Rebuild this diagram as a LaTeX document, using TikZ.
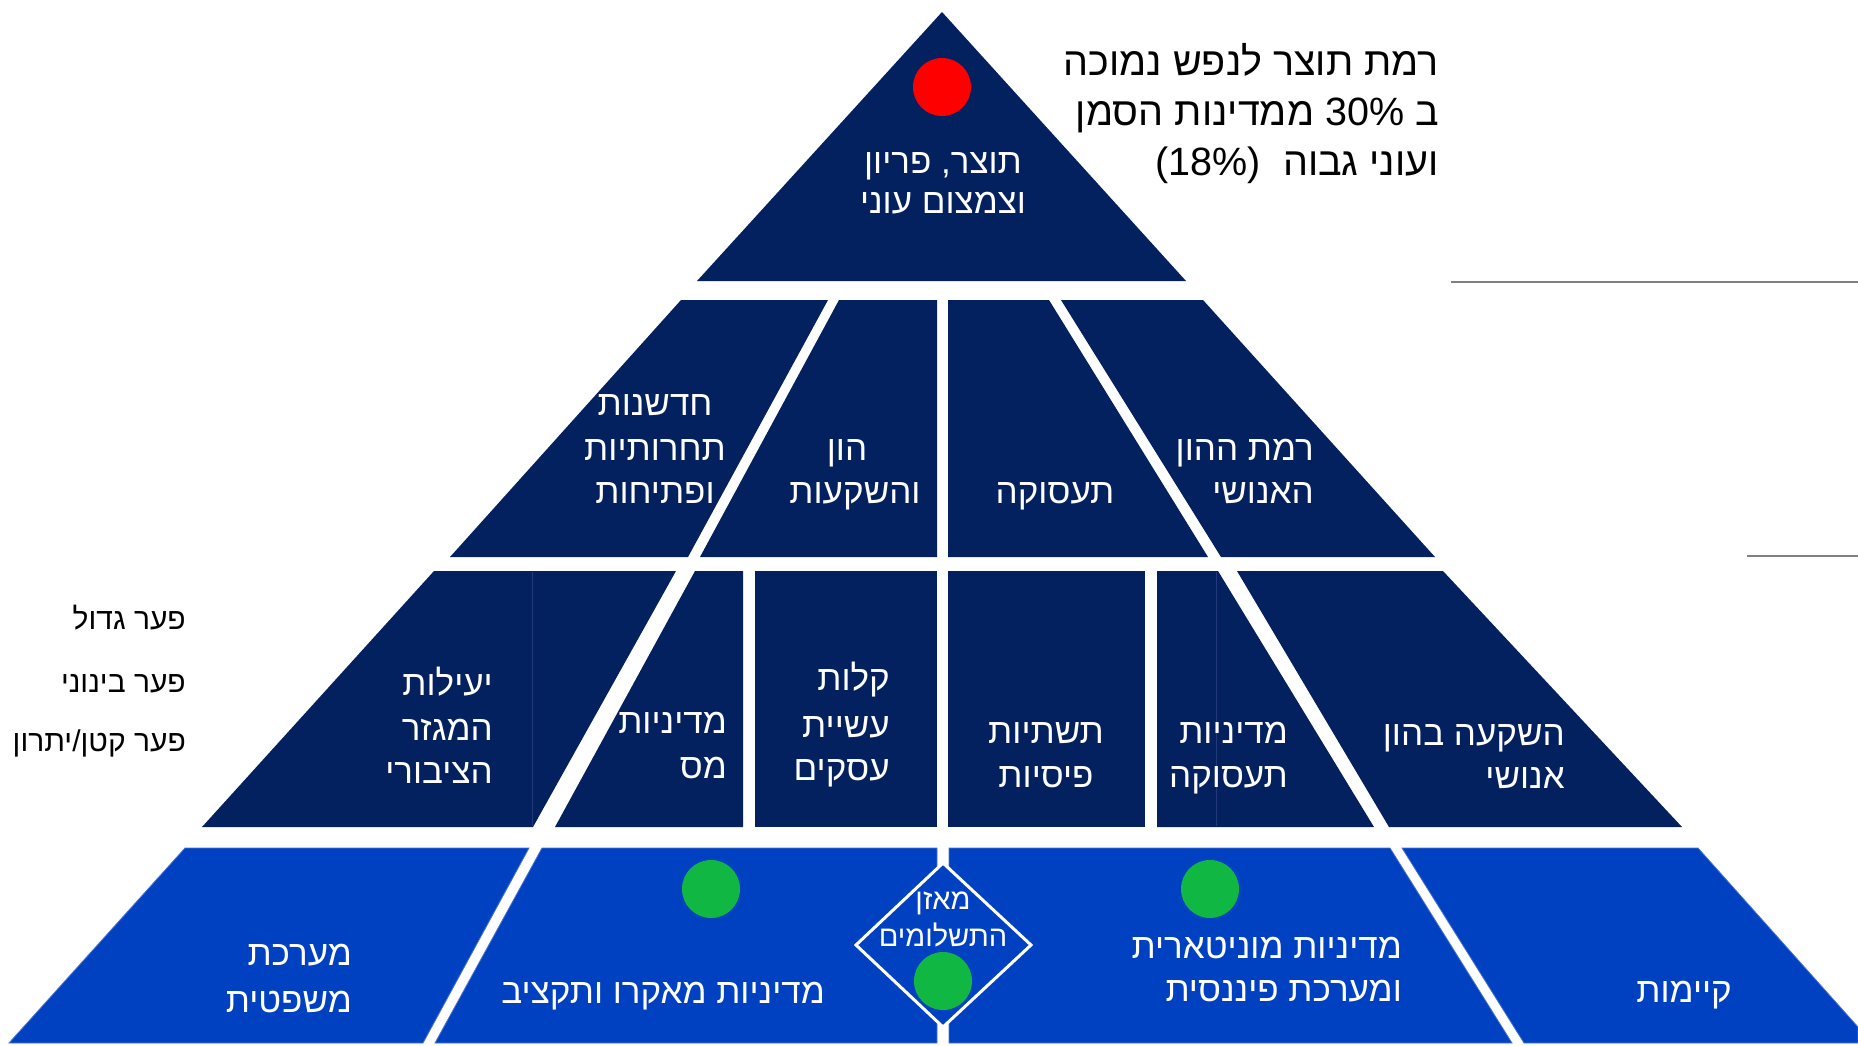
\documentclass[tikz,border=0pt]{standalone}
\usepackage{fontspec}
\setmainfont{Liberation Sans}
\newfontfamily\heb[Script=Hebrew]{Liberation Sans}
\TeXXeTstate=1
\definecolor{navy}{HTML}{03205F}
\definecolor{lblue}{HTML}{0041C2}
\definecolor{edgeblue}{HTML}{4A74D2}
\definecolor{seam}{HTML}{22397A}
\definecolor{dotgreen}{HTML}{10B843}
\definecolor{dotred}{HTML}{FF0000}
\definecolor{rulegray}{HTML}{808080}
\tikzset{
  navyshape/.style={fill=navy},
  blueshape/.style={fill=lblue, draw=edgeblue, line width=0.8pt},
  seamline/.style={draw=seam, line width=0.8pt},
  wt/.style={text=white, font=\heb\fontsize{35}{42}\selectfont, inner sep=0pt},
  dt/.style={text=white, font=\heb\fontsize{29}{35}\selectfont, inner sep=0pt},
  bt/.style={text=black, font=\heb\fontsize{39.5}{48}\selectfont, inner sep=0pt},
  lt/.style={text=black, font=\heb\fontsize{30}{36}\selectfont, inner sep=0pt},
  dot/.style={circle, inner sep=0pt, minimum size=58pt},
  grayrule/.style={draw=rulegray, line width=1.6pt}
}
\begin{document}
\begin{tikzpicture}[x=1pt,y=-1pt]
\useasboundingbox (0,0) rectangle (1858,1045);
\fill[white] (0,0) rectangle (1858,1045);

% ---- top triangle
\fill[navyshape] (942,12) -- (1186,281) -- (697,281) -- cycle;

% ---- row 2
\fill[navyshape] (681,300) -- (828,300) -- (688,557) -- (450,557) -- cycle;
\fill[navyshape] (839,300) -- (937,300) -- (937,557) -- (700,557) -- cycle;
\fill[navyshape] (948,300) -- (1049,300) -- (1208,557) -- (948,557) -- cycle;
\fill[navyshape] (1061,300) -- (1203,300) -- (1435,557) -- (1221,557) -- cycle;

% ---- row 3
\fill[navyshape] (434,571) -- (676,571) -- (533,827) -- (202,827) -- cycle;
\fill[navyshape] (695,571) -- (743,571) -- (743,827) -- (555,827) -- cycle;
\fill[navyshape] (755,571) -- (937,571) -- (937,827) -- (755,827) -- cycle;
\fill[navyshape] (948,571) -- (1145,571) -- (1145,827) -- (948,827) -- cycle;
\fill[navyshape] (1157,571) -- (1218,571) -- (1374,827) -- (1157,827) -- cycle;
\fill[navyshape] (1237,571) -- (1443,571) -- (1682,827) -- (1389,827) -- cycle;
\coordinate (s1a) at (532,572); \coordinate (s1b) at (532,826);
\coordinate (s2a) at (1216,572); \coordinate (s2b) at (1216,826);
\draw[seamline] (s1a) -- (s1b);
\draw[seamline] (s2a) -- (s2b);

% ---- row 4
\path[blueshape] (185,848) -- (529,848) -- (423,1043) -- (9,1043) -- cycle;
\path[blueshape] (542,848) -- (937,848) -- (937,1043) -- (435,1043) -- cycle;
\path[blueshape] (949,848) -- (1390,848) -- (1512,1043) -- (949,1043) -- cycle;
\path[blueshape] (1402,848) -- (1698,848) -- (1858,1027) -- (1858,1043) -- (1524,1043) -- cycle;

% ---- diamond
\draw[white, line width=3pt, fill=lblue, line join=miter] (943,863) -- (1031,945) -- (943,1027) -- (856,945) -- cycle;

% ---- dots
\node[dot, fill=dotred] (red) at (942,87) {};
\node[dot, fill=dotgreen] (g1) at (711,889) {};
\node[dot, fill=dotgreen] (g2) at (1210,889) {};
\node[dot, fill=dotgreen] (g3) at (943,981) {};

% ---- gray rules
\coordinate (r1a) at (1451,282); \coordinate (r1b) at (1858,282);
\coordinate (r2a) at (1747,556); \coordinate (r2b) at (1858,556);
\draw[grayrule] (r1a) -- (r1b);
\draw[grayrule] (r2a) -- (r2b);

% ---- top text
\node[wt, anchor=base] (ta) at (943,173) {\beginR תוצר, פריון\endR};
\node[wt, anchor=base] (tb) at (943,213) {\beginR וצמצום עוני\endR};

\node[bt, anchor=base east] (ra) at (1439,75) {\beginR רמת תוצר לנפש נמוכה\endR};
\node[bt, anchor=base east] (rb) at (1439,125) {\beginR ב \beginL30\%\endL{} ממדינות הסמן\endR};
\node[bt, anchor=base east] (rc) at (1439,175) {\beginR ועוני גבוה\ \ \beginL(18\%)\endL\endR};

% ---- row 2 text
\node[wt, anchor=base] (a1) at (655,415) {\beginR חדשנות\endR};
\node[wt, anchor=base] (a2) at (655,460) {\beginR תחרותיות\endR};
\node[wt, anchor=base] (a3) at (655,503) {\beginR ופתיחות\endR};
\node[wt, anchor=base] (b1) at (847,460) {\beginR הון\endR};
\node[wt, anchor=base] (b2) at (855,503) {\beginR והשקעות\endR};
\node[wt, anchor=base] (c1) at (1055,503) {\beginR תעסוקה\endR};
\node[wt, anchor=base east] (d1) at (1314,460) {\beginR רמת ההון\endR};
\node[wt, anchor=base east] (d2) at (1314,503) {\beginR האנושי\endR};

% ---- row 3 text
\node[wt, anchor=base east] (e1) at (493,695) {\beginR יעילות\endR};
\node[wt, anchor=base east] (e2) at (493,740) {\beginR המגזר\endR};
\node[wt, anchor=base east] (e3) at (493,783) {\beginR הציבורי\endR};
\node[wt, anchor=base east] (f1) at (727,733) {\beginR מדיניות\endR};
\node[wt, anchor=base east] (f2) at (727,778) {\beginR מס\endR};
\node[wt, anchor=base east] (h1) at (890,690) {\beginR קלות\endR};
\node[wt, anchor=base east] (h2) at (890,737) {\beginR עשיית\endR};
\node[wt, anchor=base east] (h3) at (890,780) {\beginR עסקים\endR};
\node[wt, anchor=base] (i1) at (1046,743) {\beginR תשתיות\endR};
\node[wt, anchor=base] (i2) at (1046,787) {\beginR פיסיות\endR};
\node[wt, anchor=base east] (j1) at (1288,743) {\beginR מדיניות\endR};
\node[wt, anchor=base east] (j2) at (1288,787) {\beginR תעסוקה\endR};
\node[wt, anchor=base east] (k1) at (1565,745) {\beginR השקעה בהון\endR};
\node[wt, anchor=base east] (k2) at (1565,788) {\beginR אנושי\endR};

% ---- row 4 text
\node[wt, anchor=base east] (m1) at (352,965) {\beginR מערכת\endR};
\node[wt, anchor=base east] (m2) at (352,1012) {\beginR משפטית\endR};
\node[wt, anchor=base east] (n1) at (825,1003) {\beginR מדיניות מאקרו ותקציב\endR};
\node[wt, anchor=base east] (o1) at (1402,958) {\beginR מדיניות מוניטארית\endR};
\node[wt, anchor=base east] (o2) at (1402,1001) {\beginR ומערכת פיננסית\endR};
\node[wt, anchor=base east] (p1) at (1732,1002) {\beginR קיימות\endR};
\node[dt, anchor=base] (q1) at (943,909) {\beginR מאזן\endR};
\node[dt, anchor=base] (q2) at (943,946) {\beginR התשלומים\endR};

% ---- left legend
\node[lt, anchor=base east] (l1) at (186,629) {\beginR פער גדול\endR};
\node[lt, anchor=base east] (l2) at (186,692) {\beginR פער בינוני\endR};
\node[lt, anchor=base east] (l3) at (186,751) {\beginR פער קטן/יתרון\endR};
\end{tikzpicture}
\end{document}
